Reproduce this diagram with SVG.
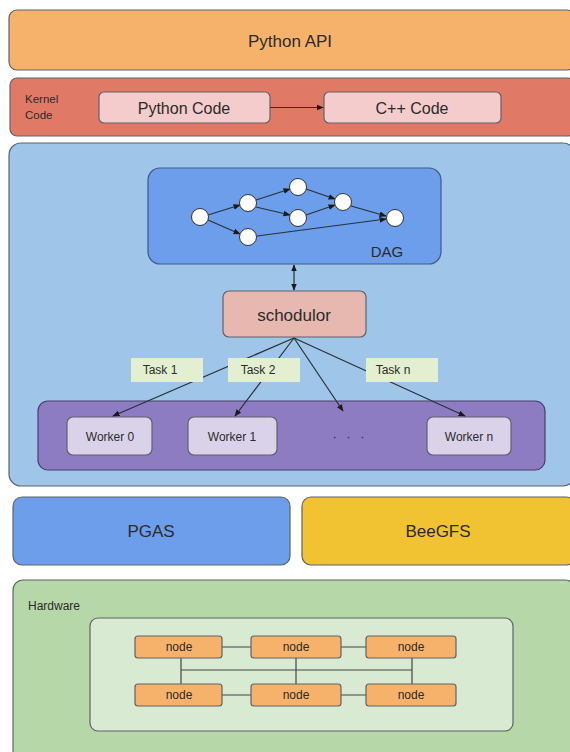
<svg xmlns="http://www.w3.org/2000/svg" width="570" height="752" viewBox="0 0 570 752">
<style>
text{font-family:"Liberation Sans",Arial,sans-serif;fill:#2b2b2b}
.c{text-anchor:middle;dominant-baseline:central}
.box{stroke:#5f6368;stroke-width:1.2}
.ln{stroke:#263238;stroke-width:1.2;fill:none}
.dn{fill:#ffffff;stroke:#333;stroke-width:1}
.hw{stroke:#444;stroke-width:1.2;fill:none}
</style>
<defs>
<marker id="ah" viewBox="0 0 10 10" refX="9" refY="5" markerWidth="6" markerHeight="6" orient="auto-start-reverse">
<path d="M0,1 L10,5 L0,9 z" fill="#1a1a1a"/>
</marker>
</defs>
<rect width="570" height="752" fill="#ffffff"/>
<g id="python-api">
<rect class="box" x="9" y="10" width="566" height="60" rx="8" fill="#f6b26b"/>
<text class="c" x="290" y="41" font-size="17">Python API</text>
</g>
<g id="kernel-code">
<rect class="box" x="10" y="78" width="565" height="58" rx="7" fill="#e07a67"/>
<text x="25" y="103" font-size="11.5">Kernel</text>
<text x="25" y="119" font-size="11.5">Code</text>
</g>
<g id="python-code">
<rect class="box" x="99" y="92" width="171" height="31" rx="5" fill="#f4cccc"/>
<text class="c" x="184" y="108" font-size="16">Python Code</text>
</g>
<g id="cpp-code">
<rect class="box" x="324" y="92" width="177" height="31" rx="5" fill="#f4cccc"/>
<text class="c" x="412" y="108" font-size="16">C++ Code</text>
</g>
<g id="runtime">
<rect class="box" x="9" y="143" width="566" height="343" rx="12" fill="#9fc5e8"/>
</g>
<g id="dag">
<rect x="148" y="168" width="293" height="96" rx="12" fill="#6d9eeb" stroke="#3d5a8a" stroke-width="1.2"/>
<text class="c" x="387" y="251" font-size="15">DAG</text>
</g>
<g id="scheduler">
<rect class="box" x="223" y="291" width="143" height="46" rx="6" fill="#e6b8af"/>
<text class="c" x="294" y="315" font-size="17">schodulor</text>
</g>
<g id="workers">
<rect x="38" y="401" width="507" height="69" rx="10" fill="#8e7cc3" stroke="#4a3f6b" stroke-width="1.2"/>
<text class="c" x="350" y="436" font-size="13" letter-spacing="3">· · ·</text>
</g>
<g id="worker-0">
<rect class="box" x="67" y="417" width="85" height="38" rx="6" fill="#d9d2e9"/>
<text class="c" x="110" y="437" font-size="12">Worker 0</text>
</g>
<g id="worker-1">
<rect class="box" x="188" y="417" width="89" height="38" rx="6" fill="#d9d2e9"/>
<text class="c" x="232" y="437" font-size="12">Worker 1</text>
</g>
<g id="worker-n">
<rect class="box" x="427" y="417" width="84" height="38" rx="6" fill="#d9d2e9"/>
<text class="c" x="469" y="437" font-size="12">Worker n</text>
</g>
<g id="pgas">
<rect class="box" x="13" y="497" width="277" height="68" rx="9" fill="#6d9eeb"/>
<text class="c" x="151" y="531" font-size="17">PGAS</text>
</g>
<g id="beegfs">
<rect class="box" x="302" y="497" width="273" height="68" rx="9" fill="#f1c232"/>
<text class="c" x="438" y="531" font-size="17">BeeGFS</text>
</g>
<g id="hardware">
<rect class="box" x="13" y="580" width="562" height="180" rx="10" fill="#b6d7a8"/>
<text x="28" y="610" font-size="12">Hardware</text>
<rect class="box" x="90" y="618" width="423" height="113" rx="8" fill="#d9ead3"/>
</g>
<g id="connectors">
<line class="ln" x1="270" y1="107.5" x2="323" y2="107.5" marker-end="url(#ah)"/>
<line class="ln" x1="294" y1="265" x2="294" y2="290" marker-start="url(#ah)" marker-end="url(#ah)"/>
<line class="ln" x1="208" y1="215" x2="240" y2="205" marker-end="url(#ah)"/>
<line class="ln" x1="208" y1="220" x2="240" y2="234" marker-end="url(#ah)"/>
<line class="ln" x1="256" y1="200" x2="290" y2="189" marker-end="url(#ah)"/>
<line class="ln" x1="256" y1="207" x2="290" y2="215" marker-end="url(#ah)"/>
<line class="ln" x1="306" y1="189" x2="335" y2="199" marker-end="url(#ah)"/>
<line class="ln" x1="306" y1="215" x2="335" y2="205" marker-end="url(#ah)"/>
<line class="ln" x1="351" y1="206" x2="386" y2="216" marker-end="url(#ah)"/>
<line class="ln" x1="257" y1="236" x2="386" y2="219" marker-end="url(#ah)"/>
<line class="ln" x1="294" y1="338" x2="113" y2="416" marker-end="url(#ah)"/>
<line class="ln" x1="294" y1="338" x2="235" y2="416" marker-end="url(#ah)"/>
<line class="ln" x1="294" y1="338" x2="343" y2="411" marker-end="url(#ah)"/>
<line class="ln" x1="294" y1="338" x2="465" y2="416" marker-end="url(#ah)"/>
<path class="hw" d="M222,647 H251 M341,647 H366 M222,695 H251 M341,695 H366 M181,658 V684 M296,658 V684 M412,658 V684 M181,670 H412"/>
</g>
<g id="dag-nodes">
<circle class="dn" cx="200" cy="217" r="8.5"/>
<circle class="dn" cx="248" cy="203" r="8.5"/>
<circle class="dn" cx="248" cy="237" r="8.5"/>
<circle class="dn" cx="298" cy="187" r="8.5"/>
<circle class="dn" cx="298" cy="218" r="8.5"/>
<circle class="dn" cx="343" cy="202" r="8.5"/>
<circle class="dn" cx="395" cy="218" r="8.5"/>
</g>
<g id="task-1">
<rect x="131" y="358" width="72" height="24" fill="#e2efd0"/>
<text class="c" x="160" y="370" font-size="12">Task 1</text>
</g>
<g id="task-2">
<rect x="228" y="358" width="72" height="24" fill="#e2efd0"/>
<text class="c" x="258" y="370" font-size="12">Task 2</text>
</g>
<g id="task-n">
<rect x="366" y="358" width="72" height="24" fill="#e2efd0"/>
<text class="c" x="393" y="370" font-size="12">Task n</text>
</g>
<g id="node-1"><rect class="box" x="135" y="636" width="87" height="22" rx="3" fill="#f6b26b"/><text class="c" x="179" y="647" font-size="12">node</text></g>
<g id="node-2"><rect class="box" x="251" y="636" width="90" height="22" rx="3" fill="#f6b26b"/><text class="c" x="296" y="647" font-size="12">node</text></g>
<g id="node-3"><rect class="box" x="366" y="636" width="90" height="22" rx="3" fill="#f6b26b"/><text class="c" x="411" y="647" font-size="12">node</text></g>
<g id="node-4"><rect class="box" x="135" y="684" width="87" height="22" rx="3" fill="#f6b26b"/><text class="c" x="179" y="695" font-size="12">node</text></g>
<g id="node-5"><rect class="box" x="251" y="684" width="90" height="22" rx="3" fill="#f6b26b"/><text class="c" x="296" y="695" font-size="12">node</text></g>
<g id="node-6"><rect class="box" x="366" y="684" width="90" height="22" rx="3" fill="#f6b26b"/><text class="c" x="411" y="695" font-size="12">node</text></g>
</svg>
